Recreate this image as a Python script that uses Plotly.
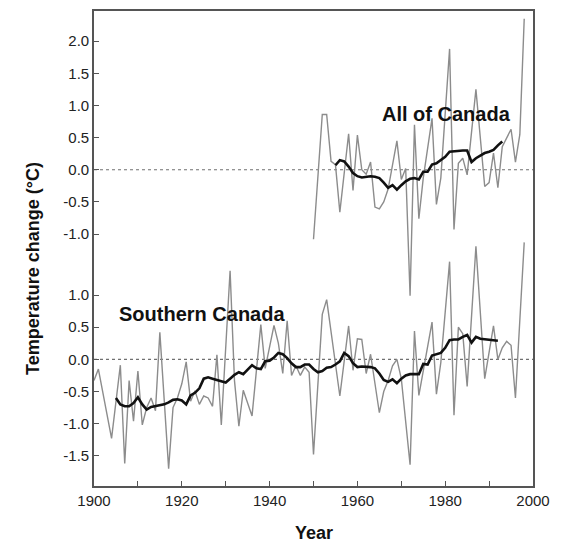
import plotly.graph_objects as go

# ---------------- data ----------------
# Southern Canada, annual anomalies (°C) – vertices of the grey line
years_south = [1900, 1901, 1904, 1906, 1907, 1908, 1909, 1910, 1911, 1912, 1913, 1914,
               1915, 1917, 1918, 1919, 1920, 1921, 1922, 1923, 1924, 1925, 1926, 1927,
               1928, 1929, 1931, 1932, 1933, 1934, 1936, 1938, 1939, 1941, 1942, 1943,
               1944, 1945, 1946, 1947, 1948, 1949, 1950, 1951, 1952, 1953, 1956, 1958,
               1959, 1960, 1961, 1962, 1963, 1965, 1966, 1967, 1968, 1969, 1970, 1972,
               1973, 1974, 1977, 1978, 1979, 1981, 1982, 1983, 1984, 1985, 1987, 1989,
               1991, 1992, 1993, 1994, 1995, 1996, 1998]
temp_south = [-0.33, -0.15, -1.23, -0.09, -1.62, -0.33, -0.96, -0.18, -1.02, -0.75, -0.60, -0.80,
              0.42, -1.70, -0.75, -0.60, -0.38, -0.04, -0.65, -0.49, -0.70, -0.57, -0.60, -0.73,
              0.07, -1.02, 1.38, -0.33, -1.04, -0.48, -0.88, 0.54, -0.14, 0.53, 0.25, -0.22,
              0.60, -0.25, -0.10, -0.25, -0.12, -0.20, -1.48, -0.40, 0.70, 0.93, -0.57, 0.52,
              -0.17, 0.32, 0.31, -0.22, 0.08, -0.83, -0.50, -0.33, -0.10, 0.00, -0.30, -1.64,
              0.44, -0.56, 0.58, -0.54, -0.05, 1.52, -0.87, 0.50, 0.40, -0.42, 1.76, -0.30,
              0.52, 0.00, 0.18, 0.28, 0.22, -0.60, 1.82]

# Southern Canada, smoothed (running mean) 1905-1992
years_south_smooth = list(range(1905, 1993))
temp_south_smooth = [-0.60, -0.70, -0.73, -0.73, -0.68, -0.59, -0.70, -0.78, -0.74, -0.73,
                     -0.72, -0.70, -0.67, -0.63, -0.62, -0.64, -0.70, -0.56, -0.52, -0.45,
                     -0.30, -0.28, -0.30, -0.32, -0.34, -0.36, -0.30, -0.24, -0.20, -0.23,
                     -0.16, -0.09, -0.14, -0.15, -0.03, -0.02, 0.03, 0.10, 0.08, 0.02,
                     -0.06, -0.12, -0.12, -0.08, -0.08, -0.15, -0.20, -0.18, -0.13, -0.12,
                     -0.08, -0.03, 0.10, 0.05, -0.06, -0.12, -0.11, -0.11, -0.12, -0.14,
                     -0.22, -0.32, -0.35, -0.31, -0.37, -0.30, -0.25, -0.23, -0.23, -0.23,
                     -0.07, -0.08, 0.06, 0.08, 0.10, 0.18, 0.30, 0.31, 0.31, 0.35,
                     0.38, 0.26, 0.35, 0.32, 0.31, 0.30, 0.30, 0.29]

# All of Canada, annual anomalies (°C) – vertices of the grey line
years_all = [1950, 1952, 1953, 1954, 1955, 1956, 1958, 1959, 1960, 1961, 1962, 1963,
             1964, 1965, 1966, 1967, 1969, 1970, 1971, 1972, 1973, 1974, 1975, 1977,
             1978, 1979, 1981, 1982, 1983, 1984, 1985, 1987, 1989, 1990, 1991, 1992,
             1993, 1995, 1996, 1997, 1998]
temp_all = [-1.08, 0.86, 0.86, 0.13, 0.08, -0.66, 0.56, -0.32, 0.54, 0.00, -0.07, 0.12,
            -0.58, -0.61, -0.50, -0.30, 0.45, -0.15, 0.02, -1.96, 0.70, -0.76, -0.13, 0.80,
            -0.54, -0.13, 1.88, -0.93, 0.10, 0.18, -0.08, 1.25, -0.26, -0.20, 0.26, -0.28,
            0.36, 0.63, 0.12, 0.55, 2.35]

# All of Canada, smoothed (running mean) 1955-1993
years_all_smooth = list(range(1955, 1994))
temp_all_smooth = [0.07, 0.15, 0.13, 0.05, -0.05, -0.10, -0.12, -0.11, -0.10, -0.11,
                   -0.13, -0.20, -0.28, -0.24, -0.31, -0.24, -0.18, -0.14, -0.13, -0.15,
                   -0.03, -0.03, 0.08, 0.10, 0.15, 0.20, 0.28, 0.29, 0.30, 0.30,
                   0.30, 0.12, 0.18, 0.22, 0.26, 0.28, 0.31, 0.38, 0.44]

top_ticks = [2.0, 1.5, 1.0, 0.5, 0.0, -0.5, -1.0]
bottom_ticks = [1.0, 0.5, 0.0, -0.5, -1.0, -1.5]
x_ticks = list(range(1900, 2001, 10))
x_labels = [str(y) if (y - 1900) % 20 == 0 else "" for y in x_ticks]

# ---------------- styling ----------------
OFFSET = 2.95            # vertical shift of the "All of Canada" panel
FONT = "Liberation Sans, Arial, sans-serif"
GREY = "#8c8c8c"
BLACK = "#111111"
AXIS = "#555555"

fig = go.Figure()

fig.add_trace(go.Scatter(x=years_south, y=temp_south, mode="lines",
                         line=dict(color=GREY, width=1.4), hoverinfo="skip"))
fig.add_trace(go.Scatter(x=years_south_smooth, y=temp_south_smooth, mode="lines",
                         line=dict(color=BLACK, width=2.6), hoverinfo="skip"))
fig.add_trace(go.Scatter(x=years_all, y=[v + OFFSET for v in temp_all], mode="lines",
                         line=dict(color=GREY, width=1.4), hoverinfo="skip"))
fig.add_trace(go.Scatter(x=years_all_smooth, y=[v + OFFSET for v in temp_all_smooth],
                         mode="lines", line=dict(color=BLACK, width=2.6), hoverinfo="skip"))

# dotted zero lines
for base in (0.0, OFFSET):
    fig.add_shape(type="line", xref="paper", x0=0, x1=1, yref="y", y0=base, y1=base,
                  line=dict(color="#707070", width=1.2, dash="dot"), layer="below")

tickvals = [t + OFFSET for t in top_ticks] + bottom_ticks
ticktext = [f"{t:.1f}" for t in top_ticks] + [f"{t:.1f}" for t in bottom_ticks]

fig.update_layout(
    width=563, height=546,
    margin=dict(l=94, r=30, t=9, b=60),
    plot_bgcolor="white", paper_bgcolor="white",
    showlegend=False,
    font=dict(family=FONT, size=15, color="#222222"),
    xaxis=dict(range=[1900, 2000], tickvals=x_ticks, ticktext=x_labels,
               ticks="inside", ticklen=5, tickwidth=1.2, tickcolor=AXIS,
               showline=True, linecolor=AXIS, linewidth=1.6, mirror=True,
               showgrid=False, zeroline=False, tickfont=dict(size=15)),
    yaxis=dict(range=[-1.97, 5.42], tickvals=tickvals, ticktext=ticktext,
               ticks="inside", ticklen=5, tickwidth=1.2, tickcolor=AXIS,
               showline=True, linecolor=AXIS, linewidth=1.6, mirror=True,
               showgrid=False, zeroline=False, tickfont=dict(size=15)),
    annotations=[
        dict(text="<b>All of Canada</b>", x=1980.4, y=OFFSET + 0.87, xref="x", yref="y",
             showarrow=False, font=dict(size=20, color=BLACK)),
        dict(text="<b>Southern Canada</b>", x=1924.7, y=0.71, xref="x", yref="y",
             showarrow=False, font=dict(size=20, color=BLACK)),
        dict(text="<b>Temperature change (°C)</b>", x=-0.139, y=0.459, xref="paper",
             yref="paper", textangle=-90, showarrow=False, xanchor="center",
             yanchor="middle", font=dict(size=18, color=BLACK)),
        dict(text="<b>Year</b>", x=0.5, y=-0.0985, xref="paper", yref="paper",
             showarrow=False, xanchor="center", yanchor="middle",
             font=dict(size=18, color=BLACK)),
    ],
)

fig.write_html("out.html")
